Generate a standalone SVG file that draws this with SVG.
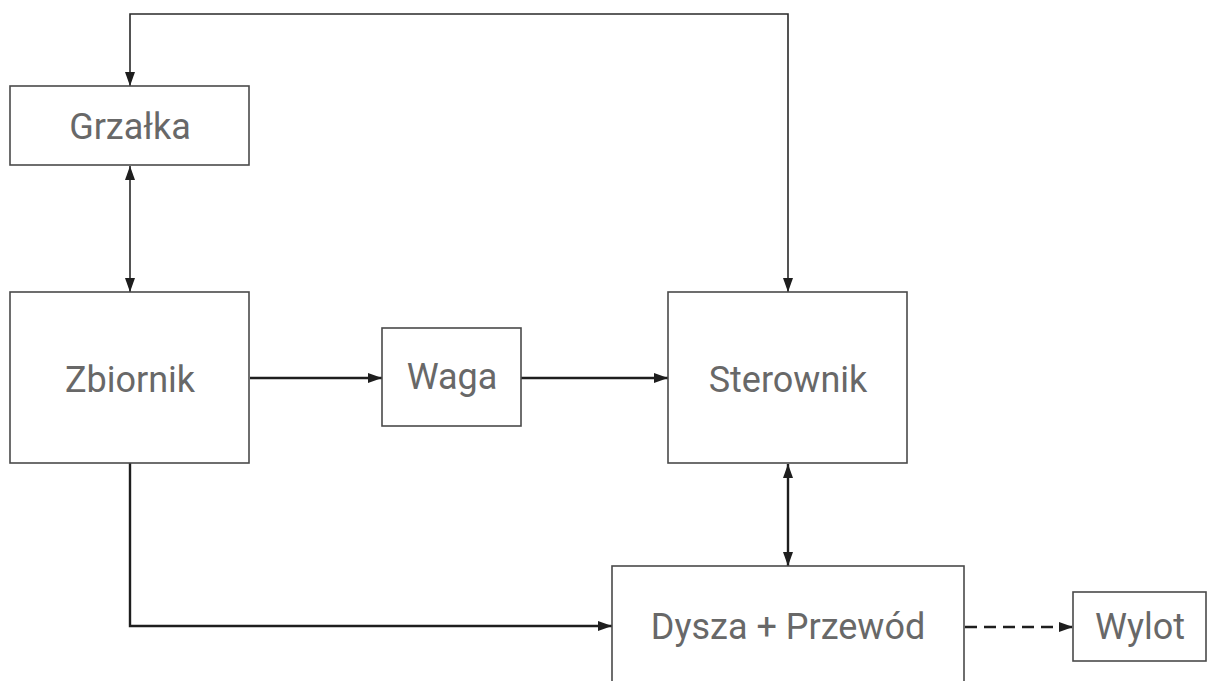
<svg xmlns="http://www.w3.org/2000/svg" width="1211" height="681" viewBox="0 0 1211 681">
  <style>
    .box { fill: #ffffff; stroke: #4a4a4a; stroke-width: 1.6; }
    .label { font-family: Roboto, "Liberation Sans", sans-serif; font-size: 36px; fill: #686868; text-anchor: middle; }
    .wire { fill: none; stroke: #2a2a2a; stroke-width: 1.6; }
    .wire.bold { stroke: #1e1e1e; stroke-width: 2.4; }
    .wire.dash { stroke: #1e1e1e; stroke-dasharray: 12 7; stroke-width: 2.6; }
  </style>
  <defs>
    <marker id="arrow" markerUnits="userSpaceOnUse" markerWidth="14" markerHeight="10" viewBox="0 0 14 10" refX="14" refY="5" orient="auto-start-reverse">
      <path d="M0,0 L14,5 L0,10 Z" fill="#1e1e1e"/>
    </marker>
  </defs>
  <rect width="1211" height="681" fill="#ffffff"/>

  <g id="connectors">
    <!-- controller <-> heater, over the top -->
    <path class="wire" d="M788,292 V14 H130 V86" marker-start="url(#arrow)" marker-end="url(#arrow)"/>
    <!-- heater <-> tank -->
    <path class="wire" d="M130,166 V292" marker-start="url(#arrow)" marker-end="url(#arrow)"/>
    <!-- tank to scale -->
    <path class="wire bold" d="M250,378 H382" marker-end="url(#arrow)"/>
    <!-- scale to controller -->
    <path class="wire bold" d="M521,378 H668" marker-end="url(#arrow)"/>
    <!-- controller <-> nozzle -->
    <path class="wire bold" d="M788,464 V566" marker-start="url(#arrow)" marker-end="url(#arrow)"/>
    <!-- tank to nozzle -->
    <path class="wire bold" d="M130,463 V626 H612" marker-end="url(#arrow)"/>
    <!-- nozzle to outlet -->
    <path class="wire dash" d="M965,627 H1073" marker-end="url(#arrow)"/>
  </g>

  <g id="grzalka">
    <rect class="box" x="10" y="86" width="239" height="79"/>
    <text class="label" x="130" y="139">Grzałka</text>
  </g>
  <g id="zbiornik">
    <rect class="box" x="10" y="292" width="239" height="171"/>
    <text class="label" x="130" y="392">Zbiornik</text>
  </g>
  <g id="waga">
    <rect class="box" x="382" y="328" width="139" height="98"/>
    <text class="label" x="452" y="389">Waga</text>
  </g>
  <g id="sterownik">
    <rect class="box" x="668" y="292" width="239" height="171"/>
    <text class="label" x="788" y="392">Sterownik</text>
  </g>
  <g id="dysza">
    <rect class="box" x="612" y="566" width="352" height="130"/>
    <text class="label" x="788" y="639">Dysza + Przewód</text>
  </g>
  <g id="wylot">
    <rect class="box" x="1073" y="592" width="133" height="69"/>
    <text class="label" x="1140" y="639">Wylot</text>
  </g>
</svg>
